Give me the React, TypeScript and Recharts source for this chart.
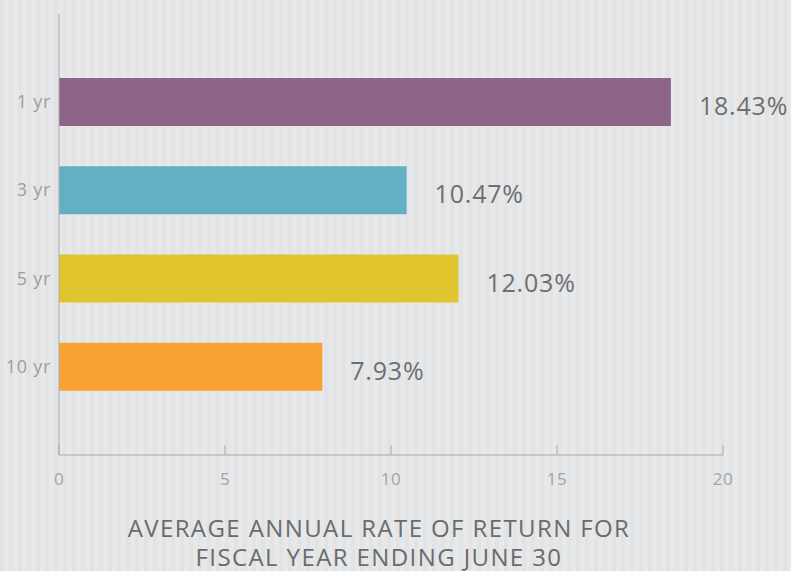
import React from "react";
import { BarChart, Bar, XAxis, YAxis, Cell, LabelList, Label } from "recharts";

const categories = ["1 yr", "3 yr", "5 yr", "10 yr"];
const returns = [18.43, 10.47, 12.03, 7.93];
const colors = ["#8e6589", "#63b0c4", "#dfc42d", "#f7a233"];
const xTicks = [0, 5, 10, 15, 20];
const titleLines = ["AVERAGE ANNUAL RATE OF RETURN FOR", "FISCAL YEAR ENDING JUNE 30"];

const data = categories.map((c, i) => ({ name: c, value: returns[i] }));

const FONT = "'Open Sans', sans-serif";

const XTick = (props: any) => {
  const { x, y, payload } = props;
  return (
    <g>
      <line x1={x} x2={x} y1={y - 10} y2={y} stroke="#a9aaab" strokeWidth={1} />
      <text x={x} y={y + 30} textAnchor="middle" fontSize={17} letterSpacing={0.5} fill="#a3a4a5" fontFamily={FONT}>
        {payload.value}
      </text>
    </g>
  );
};

const YTick = (props: any) => {
  const { x, y, payload } = props;
  return (
    <text x={x - 8} y={y} dy={6} textAnchor="end" fontSize={18} letterSpacing={0.7} fill="#9d9e9f" fontFamily={FONT}>
      {payload.value}
    </text>
  );
};

const ValueLabel = (props: any) => {
  const { x, y, width, height, value } = props;
  return (
    <text x={x + width + 28} y={y + height / 2 + 13} fontSize={25} letterSpacing={0.8} fill="#6e6f70" fontFamily={FONT}>
      {value.toFixed(2)}%
    </text>
  );
};

const Title = (props: any) => {
  const vb = props.viewBox || {};
  const cx = vb.x + vb.width / 2 - 12;
  return (
    <g>
      {titleLines.map((t, i) => (
        <text key={i} x={cx} y={vb.y + 82 + i * 29} textAnchor="middle" fontSize={24} letterSpacing={1.4} fill="#6a6b6c" fontFamily={FONT}>
          {t}
        </text>
      ))}
    </g>
  );
};

export default function App() {
  return (
    <div
      style={{
        position: "absolute",
        left: 0,
        top: 0,
        width: 791,
        height: 571,
        background:
          "repeating-linear-gradient(90deg, #e2e3e4 0px, #e2e3e4 4px, #e7e8e9 4px, #e7e8e9 9px)",
      }}
    >
      <BarChart
        width={791}
        height={571}
        data={data}
        layout="vertical"
        margin={{ top: 14, right: 68, left: 0, bottom: 0 }}
      >
        <XAxis
          type="number"
          dataKey="value"
          domain={[0, 20]}
          ticks={xTicks}
          tickLine={false}
          tickSize={0}
          tickMargin={0}
          tick={<XTick />}
          height={116}
          axisLine={{ stroke: "#a9aaab" }}
          interval={0}
        >
          <Label content={<Title />} />
        </XAxis>
        <YAxis
          type="category"
          dataKey="name"
          width={59}
          tickLine={false}
          tickSize={0}
          tickMargin={0}
          tick={<YTick />}
          axisLine={{ stroke: "#a9aaab" }}
          padding={{ top: 44, bottom: 44 }}
          interval={0}
        />
        <Bar dataKey="value" barSize={48} isAnimationActive={false}>
          {data.map((d, i) => (
            <Cell key={d.name} fill={colors[i]} />
          ))}
          <LabelList dataKey="value" content={<ValueLabel />} />
        </Bar>
      </BarChart>
    </div>
  );
}
